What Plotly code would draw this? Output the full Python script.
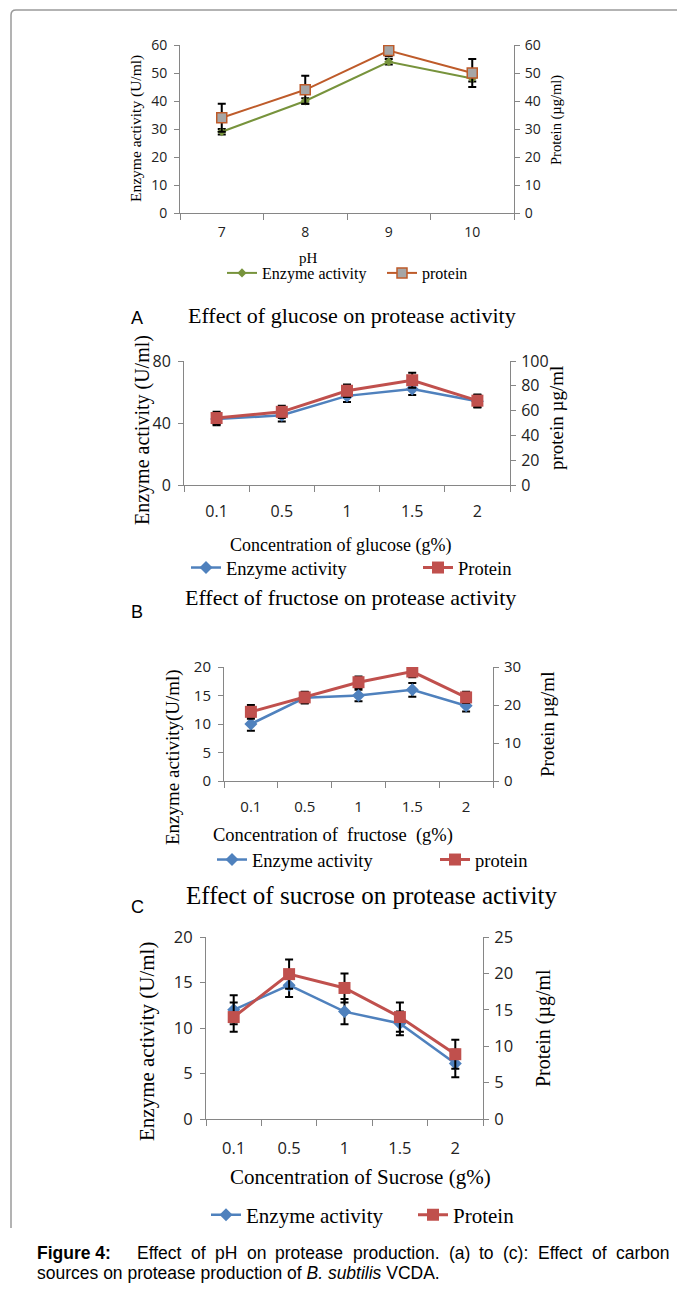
import plotly.graph_objects as go

W, H = 685, 1296
OFF = 8  # page body margin in the browser

# ---------------- data ----------------
ph_cats = ["7", "8", "9", "10"]
ph_enzyme = [29, 40, 54, 48]
ph_enzyme_err = [1, 1, 1, 1]
ph_protein = [34, 44, 58, 50]
ph_protein_err = [5, 5, 2, 5]

conc_cats = ["0.1", "0.5", "1", "1.5", "2"]

glu_enzyme = [42.5, 45, 57.5, 62, 54]
glu_enzyme_err = [4, 4, 4, 4, 4]
glu_protein = [54, 59, 76, 84.5, 68]
glu_protein_err = [5, 5, 5, 6, 5]

fru_enzyme = [10, 14.6, 15, 16, 13.2]
fru_enzyme_err = [1.2, 1, 1, 1.2, 1]
fru_protein = [18.2, 22, 26, 28.8, 22]
fru_protein_err = [1.8, 1.5, 1.5, 1.5, 1.5]

suc_enzyme = [12, 14.7, 11.8, 10.5, 6.1]
suc_enzyme_err = [1.6, 1.3, 1.4, 1.3, 1.5]
suc_protein = [14, 19.9, 18, 14, 8.9]
suc_protein_err = [2, 2, 2, 2, 2]

GREEN = "#77933C"
BROWN = "#BE5B2A"
BLUE = "#4F81BD"
RED = "#C0504D"
AXC = "#868686"
SERIF = "Liberation Serif"
SANS = "Open Sans"


def px(x):
    return (x - OFF) / W


def py(y):
    return 1 - (y - OFF) / H


fig = go.Figure()


def err(arr):
    return dict(type="data", array=arr, color="black", thickness=2, width=4)


# ---------- panel 1 (pH) ----------
fig.add_trace(go.Scatter(x=ph_cats, y=ph_enzyme, error_y=err(ph_enzyme_err),
                         name="Enzyme activity", mode="lines+markers",
                         line=dict(color=GREEN, width=2),
                         marker=dict(symbol="diamond", size=7, color=GREEN),
                         xaxis="x", yaxis="y", legend="legend"))
fig.add_trace(go.Scatter(x=ph_cats, y=ph_protein, error_y=err(ph_protein_err),
                         name="protein", mode="lines+markers",
                         line=dict(color=BROWN, width=2),
                         marker=dict(symbol="square", size=10, color="#A6A6A6",
                                     line=dict(color=BROWN, width=1.5)),
                         xaxis="x", yaxis="y2", legend="legend"))

panels = [
    (glu_enzyme, glu_enzyme_err, glu_protein, glu_protein_err, "Protein", "legend2", 2, 3, 4),
    (fru_enzyme, fru_enzyme_err, fru_protein, fru_protein_err, "protein", "legend3", 3, 5, 6),
    (suc_enzyme, suc_enzyme_err, suc_protein, suc_protein_err, "Protein", "legend4", 4, 7, 8),
]
for e, ee, p, pe, pname, leg, xi, yl, yr in panels:
    fig.add_trace(go.Scatter(x=conc_cats, y=e, error_y=err(ee),
                             name="Enzyme activity", mode="lines+markers",
                             line=dict(color=BLUE, width=2.5),
                             marker=dict(symbol="diamond", size=10, color=BLUE),
                             xaxis=f"x{xi}", yaxis=f"y{yl}", legend=leg))
    fig.add_trace(go.Scatter(x=conc_cats, y=p, error_y=err(pe),
                             name=pname, mode="lines+markers",
                             line=dict(color=RED, width=3),
                             marker=dict(symbol="square", size=12, color=RED),
                             xaxis=f"x{xi}", yaxis=f"y{yr}", legend=leg))

# ---------- axes ----------
geo = [
    (180, 514, 45, 213, 60, 10, 60, 10, 14, 4, 6),
    (184, 510, 361, 485, 80, 40, 100, 20, 16, 5, 12),
    (224, 493, 667, 781, 20, 5, 30, 10, 15, 5, 12),
    (206, 483, 937, 1119, 20, 5, 25, 5, 16.5, 5, 14),
]
layout = {}
for i, (x0, x1, yt, yb, lmax, ldt, rmax, rdt, fs, n, so) in enumerate(geo):
    xi = "" if i == 0 else str(i + 1)
    yl = "" if i == 0 else str(2 * i + 1)
    yr = str(2 * i + 2)
    tickfont = dict(family=SANS, size=fs, color="#222")
    layout[f"xaxis{xi}"] = dict(
        domain=[px(x0), px(x1)], anchor=f"y{yl}", type="category",
        range=[-0.5, n - 0.5], tickson="boundaries", ticks="outside",
        ticklen=6, tickcolor=AXC, showline=True, linecolor=AXC, linewidth=1,
        showgrid=False, zeroline=False, tickfont=tickfont, ticklabelstandoff=so)
    layout[f"yaxis{yl}"] = dict(
        domain=[py(yb), py(yt)], anchor=f"x{xi}", range=[0, lmax], dtick=ldt,
        ticks="outside", ticklen=5, tickcolor=AXC, showline=True, linecolor=AXC,
        showgrid=False, zeroline=False, tickfont=tickfont, ticklabelstandoff=4)
    layout[f"yaxis{yr}"] = dict(
        domain=[py(yb), py(yt)], anchor=f"x{xi}", overlaying=f"y{yl}",
        side="right", range=[0, rmax], dtick=rdt,
        ticks="outside", ticklen=5, tickcolor=AXC, showline=True, linecolor=AXC,
        showgrid=False, zeroline=False, tickfont=tickfont, ticklabelstandoff=2)


def leg(x, y, fs, ew):
    return dict(orientation="h", x=px(x), y=py(y), xanchor="left", yanchor="middle",
                font=dict(family=SERIF, size=fs, color="black"),
                entrywidth=ew, entrywidthmode="pixels", bgcolor="rgba(0,0,0,0)",
                tracegroupgap=0, itemwidth=30)


layout["legend"] = leg(222, 273, 16, 115)
layout["legend2"] = leg(186, 568, 18.5, 187)
layout["legend3"] = leg(212, 860, 18.5, 178)
layout["legend4"] = leg(206, 1215, 21, 162)

# ---------- text ----------
ann = []


def t(x, y, s, size, family=SERIF, angle=0, xanchor="center"):
    ann.append(dict(x=px(x), y=py(y), xref="paper", yref="paper", text=s,
                    showarrow=False, textangle=angle, xanchor=xanchor,
                    yanchor="middle",
                    font=dict(family=family, size=size, color="black")))


t(308, 258, "pH", 15)
t(136, 128, "Enzyme activity (U/ml)", 15.5, angle=-90)
t(557, 120, "Protein (µg/ml)", 14.5, angle=-90)

t(137, 318, "A", 18, family="Liberation Sans")
t(352, 315, "Effect of glucose on protease activity", 22)
t(340, 545, "Concentration of glucose (g%)", 18)
t(142, 430, "Enzyme activity (U/ml)", 20, angle=-90)
t(557, 418, "protein µg/ml", 19, angle=-90)

t(137, 612, "B", 18, family="Liberation Sans")
t(350, 597, "Effect of fructose on protease activity", 22)
t(333, 835, "Concentration of  fructose  (g%)", 18.5)
t(173, 757, "Enzyme activity(U/ml)", 19, angle=-90)
t(547, 725, "Protein µg/ml", 19, angle=-90)

t(137, 907, "C", 18, family="Liberation Sans")
t(371, 895, "Effect of sucrose on protease activity", 25)
t(360, 1177, "Concentration of Sucrose (g%)", 21)
t(147, 1042, "Enzyme activity (U/ml)", 21, angle=-90)
t(543, 1028, "Protein (µg/ml", 20, angle=-90)

# caption (first line justified across the column)
cap1 = [(35, "<b>Figure 4:</b>"), (135, "Effect"), (189, "of"), (213, "pH"),
        (245, "on"), (273, "protease"), (351, "production."), (447, "(a)"),
        (477, "to"), (501, "(c):"), (536, "Effect"), (590, "of"), (614, "carbon")]
for cx, w in cap1:
    t(cx, 1253, w, 17.5, family="Liberation Sans", xanchor="left")
t(35, 1273, "sources on protease production of <i>B. subtilis</i> VCDA.",
  17.5, family="Liberation Sans", xanchor="left")

# frame
path = (f"M {px(700)} {py(10)} L {px(16)} {py(10)} "
        f"Q {px(11)} {py(10)} {px(11)} {py(15)} L {px(11)} {py(1228)}")
shapes = [dict(type="path", xref="paper", yref="paper", path=path,
               line=dict(color="#9A9A9A", width=1.5))]

fig.update_layout(width=W, height=H,
                  margin=dict(l=0, r=0, t=0, b=0, pad=0, autoexpand=False),
                  paper_bgcolor="white", plot_bgcolor="white",
                  annotations=ann, shapes=shapes, showlegend=True, **layout)

fig.write_html("out.html")
